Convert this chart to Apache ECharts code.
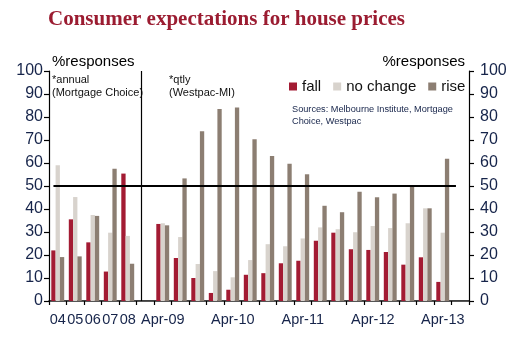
<!DOCTYPE html>
<html>
<head>
<meta charset="utf-8">
<script src="https://cdn.jsdelivr.net/npm/echarts@6/dist/echarts.min.js"></script>
<style>html,body{margin:0;padding:0;background:#fff;}#c{width:516px;height:338px;}</style>
</head>
<body>
<div id="c"></div>
<script>
const categories = ['04','05','06','07','08','gap','Apr-09','Jul-09','Oct-09','Jan-10','Apr-10','Jul-10','Oct-10','Jan-11','Apr-11','Jul-11','Oct-11','Jan-12','Apr-12','Jul-12','Oct-12','Jan-13','Apr-13','Jul-13'];
const tickLabels = ['04','05','06','07','08','Apr-09','Apr-10','Apr-11','Apr-12','Apr-13'];
const fall =     [22, 35.5, 25.5, 12.8, 55.4, null, 33.5, 18.7, 10, 3.5, 4.9, 11.4, 12.1, 16.4, 17.5, 26.2, 29.7, 22.5, 22.2, 21.3, 15.8, 19, 8.3, null];
const noChange = [59, 45.2, 37.4, 29.7, 28.3, null, 33.8, 27.8, 16.1, 13, 10.3, 17.8, 24.7, 23.8, 27.2, 32, 31.2, 29.9, 32.6, 31.7, 33.8, 40.3, 29.7, null];
const rise =     [19.1, 19.4, 37, 57.5, 16.2, null, 32.9, 53.3, 73.8, 83.5, 84.1, 70.3, 63, 59.7, 55.1, 41.4, 38.6, 47.5, 45.1, 46.7, 49.9, 40.3, 61.9, null];
const refLevel = 50;

const FONT = 'Liberation Sans, Arial, sans-serif';
const LABEL_COLOR = '#16244a';
const chart = echarts.init(document.getElementById('c'), null, {renderer: 'canvas'});

const yAxisCommon = {
  type: 'value', min: 0, max: 100, interval: 10,
  splitLine: {show: false},
  axisLine: {show: true, lineStyle: {color: '#000', width: 1.2}},
  axisTick: {show: true, inside: false, length: 5, lineStyle: {color: '#000', width: 1.2}},
  name: '%responses', nameLocation: 'end', nameGap: 2
};

chart.setOption({
  animation: false,
  backgroundColor: '#fff',
  title: {
    text: 'Consumer expectations for house prices',
    left: 43, top: 4,
    textStyle: {fontFamily: 'Liberation Serif, Times New Roman, serif', fontWeight: 'bold', fontSize: 21, color: '#9B1C31'}
  },
  legend: {
    data: ['fall', 'no change', 'rise'],
    left: 289, top: 79, padding: 0,
    icon: 'rect', itemWidth: 8, itemHeight: 8, itemGap: 12,
    textStyle: {fontFamily: FONT, fontSize: 15, color: '#111'}
  },
  grid: {left: 49, right: 47, top: 71, bottom: 37},
  xAxis: [{
    type: 'category', data: categories, position: 'bottom',
    axisLine: {lineStyle: {color: '#000', width: 1.5}},
    axisTick: {show: true, interval: 0, length: 4, lineStyle: {color: '#000', width: 1.2}},
    axisLabel: {
      interval: (idx, value) => tickLabels.includes(value),
      hideOverlap: false,
      margin: 11, fontFamily: FONT, fontSize: 14.5, color: LABEL_COLOR
    }
  }, {
    type: 'category', data: categories, position: 'top',
    axisLine: {show: true, lineStyle: {color: '#555', width: 1.2}},
    axisTick: {show: false}, axisLabel: {show: false}
  }],
  yAxis: [Object.assign({}, yAxisCommon, {
    position: 'left',
    axisLabel: {margin: 6, fontFamily: FONT, fontSize: 16, color: LABEL_COLOR},
    nameTextStyle: {fontFamily: FONT, fontSize: 15, color: '#000', align: 'left', verticalAlign: 'bottom', padding: [0, 0, 0, 3]}
  }), Object.assign({}, yAxisCommon, {
    position: 'right',
    axisLabel: {margin: 11, fontFamily: FONT, fontSize: 16, color: LABEL_COLOR},
    nameTextStyle: {fontFamily: FONT, fontSize: 15, color: '#000', align: 'right', verticalAlign: 'bottom', padding: [0, 4, 0, 0]}
  })],
  graphic: [
    {type: 'text', left: 52, top: 73, style: {text: '*annual\n(Mortgage Choice)', font: '11px ' + FONT, fill: '#111', lineHeight: 13}},
    {type: 'text', left: 169, top: 73, style: {text: '*qtly\n(Westpac-MI)', font: '11px ' + FONT, fill: '#111', lineHeight: 13}},
    {type: 'text', left: 292, top: 103, style: {text: 'Sources: Melbourne Institute, Mortgage\nChoice, Westpac', font: '9.2px ' + FONT, fill: LABEL_COLOR, lineHeight: 12.5}}
  ],
  series: [
    {
      name: 'fall', type: 'bar', data: fall, barWidth: 4.3, barGap: '0%',
      itemStyle: {color: '#A31B33'},
      markLine: {
        silent: true, symbol: 'none', label: {show: false},
        data: [
          [{coord: [categories[0], refLevel]}, {coord: [categories[categories.length - 1], refLevel]}],
          {xAxis: 'gap', lineStyle: {color: '#000', width: 1.2}}
        ],
        lineStyle: {color: '#000', width: 1.8, type: 'solid'}
      }
    },
    {name: 'no change', type: 'bar', data: noChange, barWidth: 4.3, barGap: '0%', itemStyle: {color: '#D8D3CD'}},
    {name: 'rise', type: 'bar', data: rise, barWidth: 4.3, barGap: '0%', itemStyle: {color: '#8C7E72'}}
  ]
});
</script>
</body>
</html>
